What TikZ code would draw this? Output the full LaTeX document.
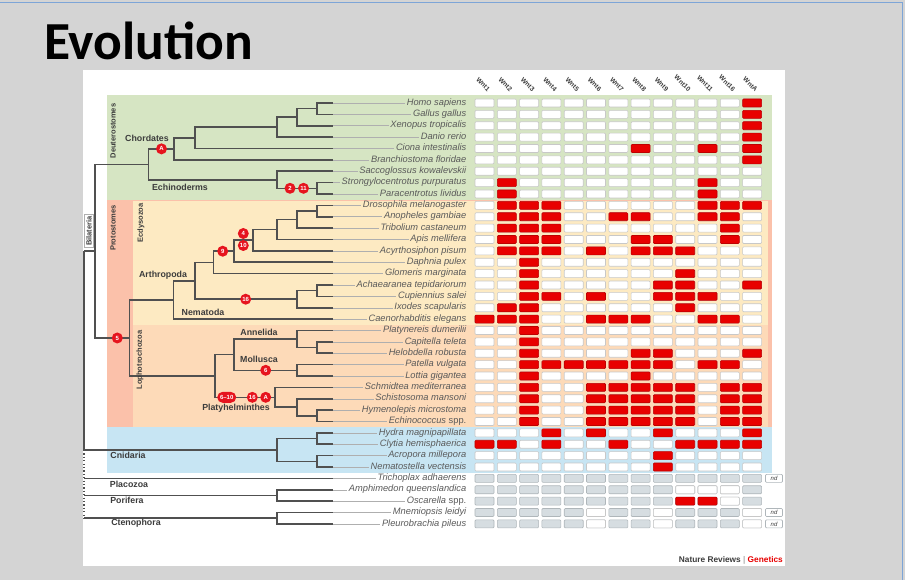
\documentclass[tikz,border=0pt]{standalone}
\usepackage{fontspec}
\setmainfont{Liberation Sans}
\setsansfont{Liberation Sans}
\newfontfamily\titlefont{Carlito}
\definecolor{slidebg}{RGB}{212,212,212}
\definecolor{framebl}{RGB}{125,165,215}
\definecolor{deut}{RGB}{214,229,195}
\definecolor{prot}{RGB}{251,193,170}
\definecolor{ecdy}{RGB}{253,234,194}
\definecolor{loph}{RGB}{253,218,184}
\definecolor{cnid}{RGB}{199,229,243}
\definecolor{treeln}{RGB}{80,80,80}
\definecolor{leafln}{RGB}{175,175,175}
\definecolor{spname}{RGB}{90,90,90}
\definecolor{lblcol}{RGB}{60,60,60}
\definecolor{lossred}{RGB}{232,0,0}
\definecolor{lossdark}{RGB}{190,0,0}
\definecolor{cellbd}{RGB}{200,200,200}
\definecolor{nagray}{RGB}{214,221,225}
\definecolor{nabd}{RGB}{175,182,186}
\definecolor{badgered}{RGB}{230,20,30}
\tikzset{
  tree/.style={draw=treeln, line width=1.6pt},
  rootdash/.style={draw=treeln, line width=1.6pt, dash pattern=on 1.2pt off 2.2pt},
  leaf/.style={draw=leafln, line width=0.5pt},
  cellw/.style={draw=cellbd, fill=white, line width=0.6pt, rounded corners=1pt, minimum width=19pt, minimum height=8pt, inner sep=0pt},
  cellr/.style={cellw, draw=lossdark, fill=lossred},
  cellg/.style={cellw, draw=nabd, fill=nagray},
  ndbox/.style={cellw, draw=nabd, minimum width=17pt, font=\fontsize{6}{6}\selectfont\itshape, text=lblcol},
  spn/.style={anchor=east, inner xsep=1.5pt, inner ysep=0.5pt, text height=6.3pt, text depth=1.9pt, text=spname, font=\fontsize{9.3}{10}\selectfont\itshape},
  clade/.style={text=lblcol, inner sep=0pt, font=\fontsize{8.8}{10}\selectfont\bfseries},
  vclade/.style={text=lblcol, inner sep=0pt, rotate=90, font=\fontsize{7.5}{8}\selectfont\bfseries},
  badge/.style={circle, fill=badgered, text=white, inner sep=0pt, minimum size=11pt, font=\fontsize{6}{6}\selectfont\bfseries},
  badgewide/.style={rectangle, rounded corners=5.5pt, fill=badgered, text=white, inner sep=0pt, minimum width=19pt, minimum height=11pt, font=\fontsize{6}{6}\selectfont\bfseries},
  wnthead/.style={anchor=east, rotate=-45, inner sep=0pt, text=lblcol, font=\fontsize{6.6}{7}\selectfont\bfseries}
}
\begin{document}
\begin{tikzpicture}[x=1pt,y=-1pt]
\useasboundingbox (0,0) rectangle (905,580);
% slide
\fill[slidebg] (0,0) rectangle (905,580);
\draw[framebl, line width=1pt] (-2,3) -- (902.5,3) -- (902.5,582);
\node[anchor=base west, inner sep=0pt, font=\titlefont\bfseries\fontsize{53.5}{60}\selectfont] (title) at (44,60) {Evolution};
% figure panel
\fill[white] (83,70) rectangle (785,566);
% bands
\fill[deut] (107,95) rectangle (772,199.7);
\fill[prot] (107,199.7) rectangle (772,427.2);
\fill[ecdy] (133,200.7) rectangle (768,324.8);
\fill[loph] (133,324.8) rectangle (768,427.2);
\fill[cnid] (107,427.2) rectangle (772,472.7);
% column headers
\foreach \c/\w in {0/Wnt1,1/Wnt2,2/Wnt3,3/Wnt4,4/Wnt5,5/Wnt6,6/Wnt7,7/Wnt8,8/Wnt9,9/Wnt10,10/Wnt11,11/Wnt16,12/WntA}
  \node[wnthead] (h\c) at ({484.5+22.3*\c+4.5},90.5) {\w};
% species names and leaf tips
\foreach \i/\nm in {0/Homo sapiens,1/Gallus gallus,2/Xenopus tropicalis,3/Danio rerio,4/Ciona intestinalis,5/Branchiostoma floridae,6/Saccoglossus kowalevskii,7/Strongylocentrotus purpuratus,8/Paracentrotus lividus,9/Drosophila melanogaster,10/Anopheles gambiae,11/Tribolium castaneum,12/Apis mellifera,13/Acyrthosiphon pisum,14/Daphnia pulex,15/Glomeris marginata,16/Achaearanea tepidariorum,17/Cupiennius salei,18/Ixodes scapularis,19/Caenorhabditis elegans,20/Platynereis dumerilii,21/Capitella teleta,22/Helobdella robusta,23/Patella vulgata,24/Lottia gigantea,25/Schmidtea mediterranea,26/Schistosoma mansoni,27/Hymenolepis microstoma,28/Echinococcus \textup{spp.},29/Hydra magnipapillata,30/Clytia hemisphaerica,31/Acropora millepora,32/Nematostella vectensis,33/Trichoplax adhaerens,34/Amphimedon queenslandica,35/Oscarella \textup{spp.},36/Mnemiopsis leidyi,37/Pleurobrachia pileus}{
  \node[spn] (sp\i) at (468,{103+11.375*\i}) {\nm};
  \coordinate (l\i) at (333,{103+11.375*\i});
  \draw[leaf] (l\i) -- (sp\i.west);
}
% grid: bilaterians and cnidarians
\foreach \r/\reds in {0/{12},1/{12},2/{12},3/{12},4/{7,10,12},5/{12},6/{-1},7/{1,10},8/{1,10},
  9/{1,2,3,10,11,12},10/{1,2,3,6,7,10,11},11/{1,2,3,11},12/{1,2,3,7,8,11},13/{1,2,3,5,7,8,9},
  14/{2},15/{2,9},16/{2,8,9,12},17/{2,3,5,8,9,10},18/{1,2,9},19/{0,1,2,5,6,7,10,11},
  20/{2},21/{2},22/{2,7,8,12},23/{2,3,4,5,6,7,8,10,11},24/{2,7},
  25/{2,5,6,7,8,9,11,12},26/{2,5,6,7,8,9,11,12},27/{2,5,6,7,8,9,11,12},28/{2,5,6,7,8,9,11,12},
  29/{3,5,8,12},30/{0,1,3,6,9,10,11,12},31/{8},32/{8}}{
  \foreach \c in {0,...,12}
    \node[cellw] (c-\r-\c) at ({484.5+22.3*\c},{103+11.375*\r}) {};
  \foreach \c in \reds {
    \ifnum\c>-1
      \node[cellr] (x-\r-\c) at ({484.5+22.3*\c},{103+11.375*\r}) {};
    \fi
  }
}
% grid: non-bilaterian rows
\foreach \r/\whites/\reds in {33/{-1}/{-1},34/{9,10,11}/{-1},35/{11}/{9,10},36/{5,8,12}/{-1},37/{5,8,12}/{-1}}{
  \foreach \c in {0,...,12}
    \node[cellg] (c-\r-\c) at ({484.5+22.3*\c},{103+11.375*\r}) {};
  \foreach \c in \whites {
    \ifnum\c>-1
      \node[cellw] (w-\r-\c) at ({484.5+22.3*\c},{103+11.375*\r}) {};
    \fi
  }
  \foreach \c in \reds {
    \ifnum\c>-1
      \node[cellr] (x-\r-\c) at ({484.5+22.3*\c},{103+11.375*\r}) {};
    \fi
  }
}
\node[ndbox] (nd33) at (774,478.375) {nd};
\node[ndbox] (nd36) at (774,512.5) {nd};
\node[ndbox] (nd37) at (774,523.875) {nd};
% internal tree nodes
\coordinate (hg) at (316.7,108.69);
\coordinate (hgx) at (296.7,117.22);
\coordinate (hgxd) at (276.7,127.17);
\coordinate (vert) at (195,137.84);
\coordinate (chord) at (174,148.86);
\coordinate (echi) at (316.7,188.31);
\coordinate (ambu) at (276.7,179.78);
\coordinate (deut) at (148.3,164.32);
\coordinate (da) at (316.7,211.06);
\coordinate (dat) at (296.7,219.59);
\coordinate (data) at (276.7,229.55);
\coordinate (ins) at (252.7,240.21);
\coordinate (pan) at (234,251.23);
\coordinate (man) at (213.3,262.43);
\coordinate (ac) at (316.7,290.69);
\coordinate (chel) at (296.7,299.22);
\coordinate (arth) at (195,280.82);
\coordinate (ecd) at (173.3,299.97);
\coordinate (ch) at (316.7,347.56);
\coordinate (ann) at (296.7,339.03);
\coordinate (mol) at (296.7,370.31);
\coordinate (am) at (234,354.67);
\coordinate (hym) at (316.7,415.81);
\coordinate (sch) at (296.7,407.28);
\coordinate (pla) at (275,397.33);
\coordinate (lop) at (215,376);
\coordinate (prot) at (129.3,337.99);
\coordinate (bilat) at (95,251.15);
\coordinate (hc) at (316.7,438.56);
\coordinate (an) at (316.7,461.31);
\coordinate (cni) at (276.7,449.94);
\coordinate (por) at (276.7,495.44);
\coordinate (cte) at (276.7,518.19);
\coordinate (r0) at (84,251.15);
\coordinate (r1) at (84,449.94);
\coordinate (rt) at (84,478.375);
\coordinate (rp) at (84,495.44);
\coordinate (r2) at (84,518.19);
% tree edges
\foreach \p/\q in {hg/l0,hg/l1,hgx/hg,hgx/l2,hgxd/hgx,hgxd/l3,vert/hgxd,vert/l4,chord/vert,chord/l5,
  echi/l7,echi/l8,ambu/l6,ambu/echi,deut/chord,deut/ambu,bilat/deut,bilat/prot,
  da/l9,da/l10,dat/da,dat/l11,data/dat,data/l12,ins/data,ins/l13,pan/ins,pan/l14,man/pan,man/l15,
  ac/l16,ac/l17,chel/ac,chel/l18,arth/man,arth/chel,ecd/arth,ecd/l19,
  ch/l21,ch/l22,ann/l20,ann/ch,mol/l23,mol/l24,am/ann,am/mol,hym/l27,hym/l28,sch/l26,sch/hym,
  pla/l25,pla/sch,lop/am,lop/pla,prot/ecd,prot/lop,
  hc/l29,hc/l30,an/l31,an/l32,cni/hc,cni/an,por/l34,por/l35,cte/l36,cte/l37}
  \draw[tree] (\p) |- (\q);
\draw[tree] (r0) -- (bilat);
\draw[tree] (r0) -- (r1);
\draw[tree] (r1) -- (cni);
\draw[rootdash] (r1) -- (r2);
\draw[tree] (rt) -- (l33);
\draw[tree] (rp) -- (por);
\draw[tree] (r2) -- (cte);
% badges
\node[badge] (bA1) at (161.5,148.86) {A};
\node[badge] (b2) at (290,188.31) {2};
\node[badge] (b11) at (303.5,188.31) {11};
\node[badge] (b4) at (243.3,233.5) {4};
\node[badge] (b10) at (243.3,245.5) {10};
\node[badge] (b9) at (222.7,251.23) {9};
\node[badge] (b16a) at (245.7,299.22) {16};
\node[badge] (b5) at (117.3,337.99) {5};
\node[badge] (b6) at (265.7,370.31) {6};
\node[badgewide] (b610) at (226.7,397.33) {6--10};
\node[badge] (b16b) at (252.3,397.33) {16};
\node[badge] (bA2) at (265.7,397.33) {A};
% clade labels
\node[vclade] (lDeut) at (113,131) {Deuterostomes};
\node[vclade] (lProt) at (113,228) {Protostomes};
\node[vclade] (lEcdy) at (141,223) {Ecdysozoa};
\node[vclade] (lLoph) at (140,360) {Lophotrochozoa};
\node[vclade, draw=leafln, line width=0.5pt, inner sep=1.5pt] (lBila) at (89,231) {Bilateria};
\node[clade] (lChor) at (147,138) {Chordates};
\node[clade] (lEchi) at (180,187) {Echinoderms};
\node[clade] (lArth) at (163,275.5) {Arthropoda};
\node[clade] (lNema) at (203,312) {Nematoda};
\node[clade] (lAnne) at (259,332.5) {Annelida};
\node[clade] (lMoll) at (259,359) {Mollusca};
\node[clade] (lPlat) at (236,408.5) {Platyhelminthes};
\node[clade] (lCnid) at (128,455.5) {Cnidaria};
\node[clade] (lPlac) at (129,484.5) {Placozoa};
\node[clade] (lPori) at (127,500) {Porifera};
\node[clade] (lCten) at (136,523) {Ctenophora};
% journal credit
\node[anchor=east, inner sep=0pt, font=\fontsize{8.3}{9}\selectfont\bfseries] (credit) at (783,560)
  {\textcolor{lblcol}{Nature Reviews} \textcolor{leafln}{|} \textcolor{lossred}{Genetics}};
\end{tikzpicture}
\end{document}
